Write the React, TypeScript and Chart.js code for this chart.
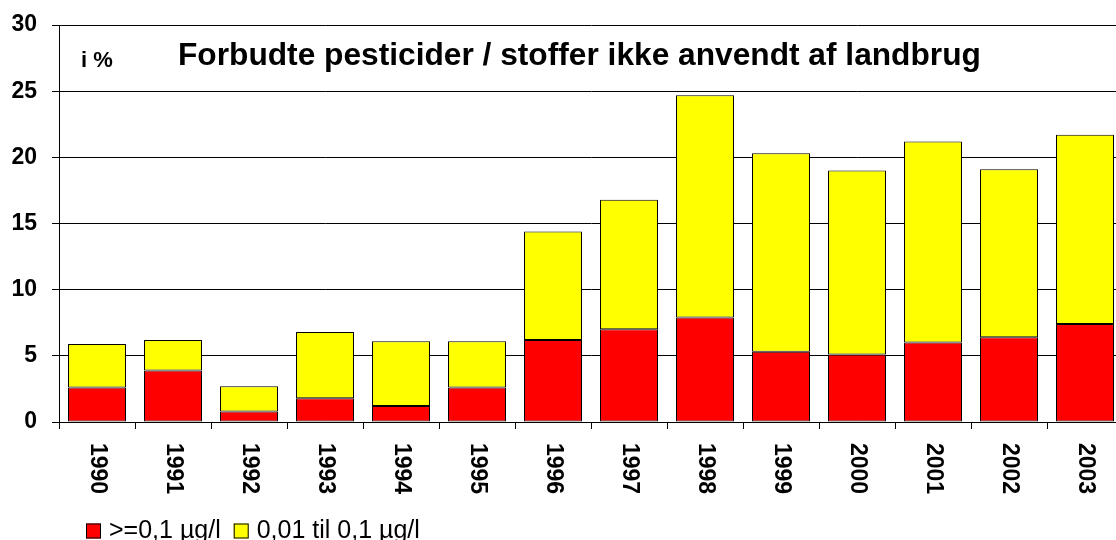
import { useEffect, useRef } from "react";
import { Chart, registerables } from "chart.js";

Chart.register(...registerables);

const years = ["1990", "1991", "1992", "1993", "1994", "1995", "1996", "1997", "1998", "1999", "2000", "2001", "2002", "2003"];
const aboveLimit = [2.6, 3.9, 0.8, 1.8, 1.2, 2.6, 6.2, 7.0, 7.9, 5.3, 5.1, 6.0, 6.4, 7.4];
const belowLimit = [3.3, 2.3, 1.9, 5.0, 4.9, 3.5, 8.2, 9.8, 16.8, 15.0, 13.9, 15.2, 12.7, 14.3];
const seriesLabels = [">=0,1 µg/l", "0,01 til 0,1 µg/l"];
const seriesColors = ["#FF0000", "#FFFF00"];
const yMin = 0;
const yMax = 30;
const yStep = 5;
const titleText = "Forbudte pesticider / stoffer ikke anvendt af landbrug";
const unitText = "i %";

const FONT = "'Liberation Sans', Arial, Helvetica, sans-serif";

const overlayPlugin = {
  id: "overlay",
  afterDraw(chart: any) {
    const ctx = chart.ctx as CanvasRenderingContext2D;
    const area = chart.chartArea;
    const xScale = chart.scales.x;
    ctx.save();
    ctx.fillStyle = "#000";

    // unit label and title inside the plot
    ctx.textBaseline = "alphabetic";
    ctx.textAlign = "left";
    ctx.font = `bold 22px ${FONT}`;
    ctx.fillText(unitText, area.left + 22, area.top + 42);
    ctx.font = `bold 31.7px ${FONT}`;
    ctx.fillText(titleText, area.left + 119, area.top + 40);

    // category labels rotated clockwise
    ctx.font = `bold 23px ${FONT}`;
    ctx.textAlign = "left";
    ctx.textBaseline = "middle";
    years.forEach((label, i) => {
      const x = xScale.getPixelForValue(i);
      ctx.save();
      ctx.translate(x, area.bottom + 21);
      ctx.rotate(Math.PI / 2);
      ctx.fillText(label, 0, 0);
      ctx.restore();
    });

    // legend
    ctx.font = `25px ${FONT}`;
    ctx.textBaseline = "middle";
    let lx = 86;
    const ly = 531;
    const box = 15;
    seriesLabels.forEach((label, i) => {
      ctx.fillStyle = seriesColors[i];
      ctx.fillRect(lx, ly - box / 2, box, box);
      ctx.strokeStyle = "#000";
      ctx.lineWidth = 1;
      ctx.strokeRect(lx + 0.5, ly - box / 2 + 0.5, box - 1, box - 1);
      ctx.fillStyle = "#000";
      const tx = lx + box + 8;
      ctx.fillText(label, tx, ly);
      lx = tx + ctx.measureText(label).width + 13;
    });
    ctx.restore();
  },
};

export default function App() {
  const canvasRef = useRef<HTMLCanvasElement | null>(null);

  useEffect(() => {
    if (!canvasRef.current) return;
    const chart = new Chart(canvasRef.current, {
      type: "bar",
      data: {
        labels: years,
        datasets: [
          {
            label: seriesLabels[0],
            data: aboveLimit,
            backgroundColor: seriesColors[0],
            borderColor: "#000",
            borderWidth: 1,
            borderSkipped: false,
            inflateAmount: 0,
          },
          {
            label: seriesLabels[1],
            data: belowLimit,
            backgroundColor: seriesColors[1],
            borderColor: "#000",
            borderWidth: 1,
            borderSkipped: false,
            inflateAmount: 0,
          },
        ],
      },
      options: {
        responsive: false,
        animation: false,
        layout: { padding: { top: 25, left: 0, right: 0, bottom: 0 } },
        datasets: { bar: { categoryPercentage: 1, barPercentage: 0.763 } },
        plugins: {
          legend: { display: false },
          title: { display: false },
          tooltip: { enabled: false },
        },
        scales: {
          x: {
            stacked: true,
            offset: true,
            grid: {
              display: true,
              offset: true,
              drawOnChartArea: false,
              drawTicks: true,
              tickLength: 7,
              color: "#000",
            },
            border: { display: true, color: "#000", width: 1 },
            ticks: { display: false },
            afterFit: (scale: any) => {
              scale.height = 118;
              scale.paddingLeft = 0;
              scale.paddingRight = 0;
            },
          },
          y: {
            stacked: true,
            min: yMin,
            max: yMax,
            grid: { color: "#000", tickLength: 7, drawTicks: true },
            border: { display: true, color: "#000", width: 1 },
            ticks: {
              stepSize: yStep,
              color: "#000",
              padding: 15,
              font: { family: FONT, size: 23, weight: "bold" },
            },
            afterFit: (scale: any) => {
              scale.width = 59;
              scale.paddingTop = 0;
              scale.paddingBottom = 0;
            },
          },
        },
      },
      plugins: [overlayPlugin],
    });
    return () => chart.destroy();
  }, []);

  return (
    <div
      style={{
        position: "fixed",
        left: 0,
        top: 0,
        width: 1116,
        height: 540,
        overflow: "hidden",
        background: "#fff",
      }}
    >
      <canvas ref={canvasRef} width={1123} height={540} style={{ display: "block" }} />
    </div>
  );
}
